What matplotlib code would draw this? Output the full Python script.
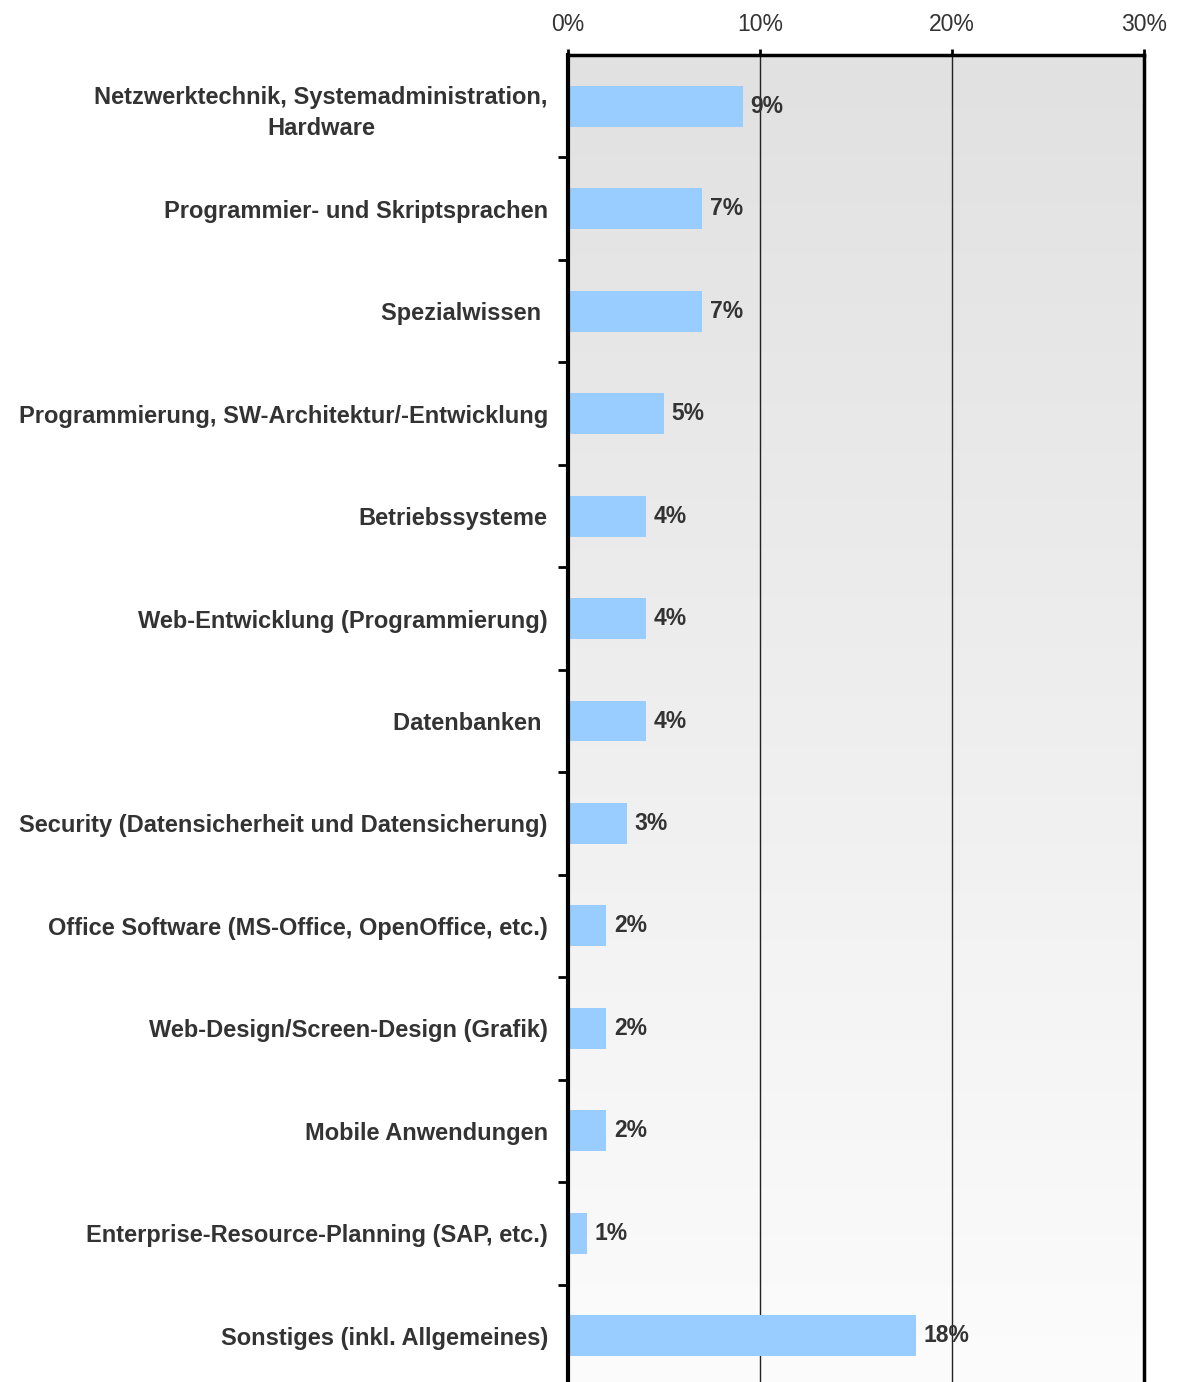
import matplotlib
matplotlib.use("Agg")
import matplotlib.pyplot as plt
from matplotlib import font_manager as fm
import numpy as np

categories = [
    "Netzwerktechnik, Systemadministration,\nHardware",
    "Programmier- und Skriptsprachen",
    "Spezialwissen ",
    "Programmierung, SW-Architektur/-Entwicklung",
    "Betriebssysteme",
    "Web-Entwicklung (Programmierung)",
    "Datenbanken ",
    "Security (Datensicherheit und Datensicherung)",
    "Office Software (MS-Office, OpenOffice, etc.)",
    "Web-Design/Screen-Design (Grafik)",
    "Mobile Anwendungen",
    "Enterprise-Resource-Planning (SAP, etc.)",
    "Sonstiges (inkl. Allgemeines)",
]
values = [9.1, 7.0, 7.0, 5.0, 4.05, 4.05, 4.05, 3.05, 2.0, 2.0, 2.0, 1.0, 18.1]
value_labels = ["9%", "7%", "7%", "5%", "4%", "4%", "4%", "3%", "2%", "2%", "2%", "1%", "18%"]
xticks = [0, 10, 20, 30]
xtick_labels = ["0%", "10%", "20%", "30%"]

plt.rcParams['font.family'] = ['Liberation Sans', 'DejaVu Sans']

bold_path = None
reg_path = None
for f in fm.fontManager.ttflist:
    fn = f.fname.lower()
    if f.name == "Liberation Sans" and "narrow" not in fn:
        if "bold" in fn and "italic" not in fn:
            bold_path = f.fname
        elif "regular" in fn:
            reg_path = f.fname

def fp(size, bold):
    path = bold_path if bold else reg_path
    if path:
        return fm.FontProperties(fname=path, size=size)
    return fm.FontProperties(family="Liberation Sans", size=size,
                             weight="bold" if bold else "normal")

W, H = 1177, 1382
fig = plt.figure(figsize=(W / 100, H / 100), dpi=100)
left, right, top, bottom = 568, 1144, 55, 1387
ax = fig.add_axes([left / W, (H - bottom) / H, (right - left) / W, (bottom - top) / H])

n = len(categories)

grad = np.linspace(225, 252, 256).reshape(-1, 1) / 255.0
rgb = np.dstack([grad, grad, grad])
ax.imshow(rgb, extent=[0, 30, n - 0.5, -0.5], aspect='auto', zorder=0,
          interpolation='bilinear')
ax.set_xlim(0, 30)
ax.set_ylim(n - 0.5, -0.5)

ypos = np.arange(n)
ax.barh(ypos, values, height=0.4, color="#99ccff", zorder=2)

for y, v, lab in zip(ypos, values, value_labels):
    ax.text(v + 0.4, y, lab, ha="left", va="center", fontproperties=fp(16.5, True),
            color="#333333", zorder=3)

for gx in [10, 20]:
    ax.axvline(gx, color="#222222", lw=1.0, zorder=1)

ax.xaxis.tick_top()
ax.set_xticks(xticks)
ax.set_xticklabels(xtick_labels, fontproperties=fp(16.5, False), color="#333333")
ax.tick_params(axis="x", direction="out", length=4, width=2, pad=10, colors="black",
               labelcolor="#333333")

ax.set_yticks(ypos)
ax.set_yticklabels(categories, fontproperties=fp(17, True), color="#333333",
                   multialignment="center", linespacing=1.45)
ax.tick_params(axis="y", which="major", length=0, pad=14.5)
ax.set_yticks(np.arange(n - 1) + 0.5, minor=True)
ax.tick_params(axis="y", which="minor", length=7, width=2, direction="out")

ax.spines["left"].set_linewidth(3)
for s in ["top", "right"]:
    ax.spines[s].set_linewidth(2.5)
ax.spines["bottom"].set_visible(False)
for s in ax.spines.values():
    s.set_zorder(4)

fig.savefig("out.png", dpi=100)
